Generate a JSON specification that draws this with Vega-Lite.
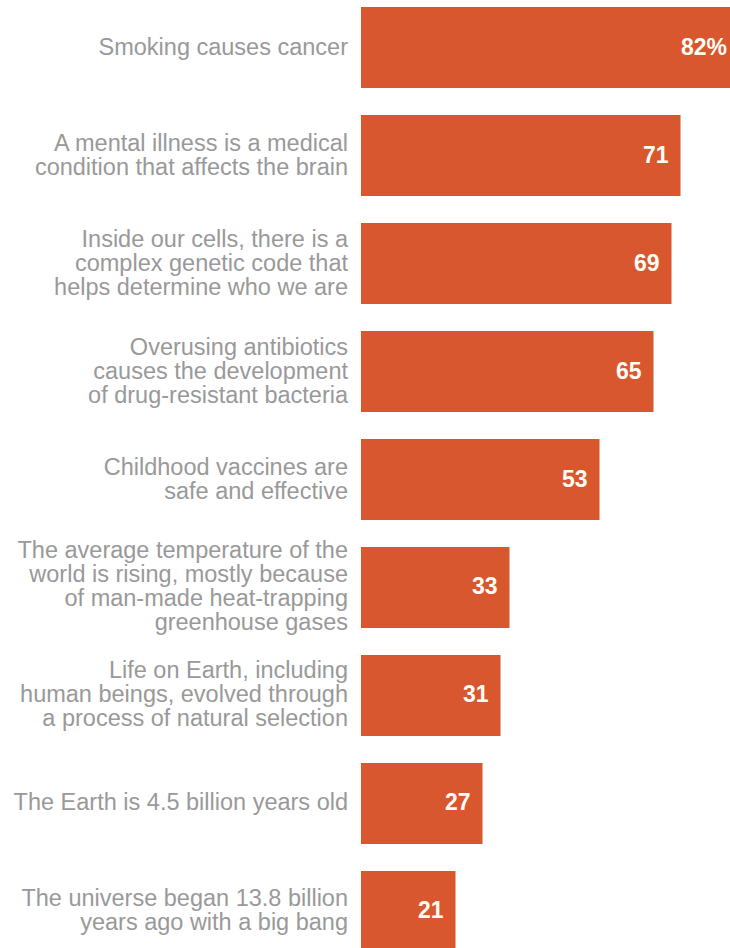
{
  "$schema": "https://vega.github.io/schema/vega-lite/v6.json",
  "autosize": "none",
  "padding": {"left": 361, "top": 0, "right": 0, "bottom": 0},
  "width": 369,
  "height": 959,
  "background": "white",
  "config": {"view": {"stroke": null}},
  "data": {
    "values": [
      {"k": "smoking", "value": 82, "lab": "82%", "label": ["Smoking causes cancer"]},
      {"k": "mental", "value": 71, "lab": "71", "label": ["A mental illness is a medical", "condition that affects the brain"]},
      {"k": "genetic", "value": 69, "lab": "69", "label": ["Inside our cells, there is a", "complex genetic code that", "helps determine who we are"]},
      {"k": "antibiotics", "value": 65, "lab": "65", "label": ["Overusing antibiotics", "causes the development", "of drug-resistant bacteria"]},
      {"k": "vaccines", "value": 53, "lab": "53", "label": ["Childhood vaccines are", "safe and effective"]},
      {"k": "climate", "value": 33, "lab": "33", "label": ["The average temperature of the", "world is rising, mostly because", "of man-made heat-trapping", "greenhouse gases"]},
      {"k": "evolution", "value": 31, "lab": "31", "label": ["Life on Earth, including", "human beings, evolved through", "a process of natural selection"]},
      {"k": "earth", "value": 27, "lab": "27", "label": ["The Earth is 4.5 billion years old"]},
      {"k": "universe", "value": 21, "lab": "21", "label": ["The universe began 13.8 billion", "years ago with a big bang"]}
    ]
  },
  "encoding": {
    "y": {"field": "k", "type": "nominal", "sort": null, "axis": null, "scale": {"paddingInner": 0.25, "paddingOuter": 0.065}},
    "x": {"field": "value", "type": "quantitative", "axis": null, "scale": {"domain": [0, 82], "nice": false}}
  },
  "layer": [
    {"mark": {"type": "bar", "color": "#D9572F"}},
    {"mark": {"type": "text", "align": "right", "baseline": "middle", "dx": {"expr": "indexof(datum.lab, '%') >= 0 ? -3 : -12"}, "color": "#FFFDF5", "fontWeight": "bold", "fontSize": 23, "font": "Liberation Sans"},
     "encoding": {"text": {"field": "lab", "type": "nominal"}}},
    {"mark": {"type": "text", "align": "right", "baseline": "middle", "dx": -13, "dy": {"expr": "-(length(datum.label) - 1) * 12"}, "color": "#999999", "fontSize": 23.5, "lineHeight": 24, "font": "Liberation Sans"},
     "encoding": {"x": {"datum": 0}, "text": {"field": "label", "type": "nominal"}}}
  ]
}
